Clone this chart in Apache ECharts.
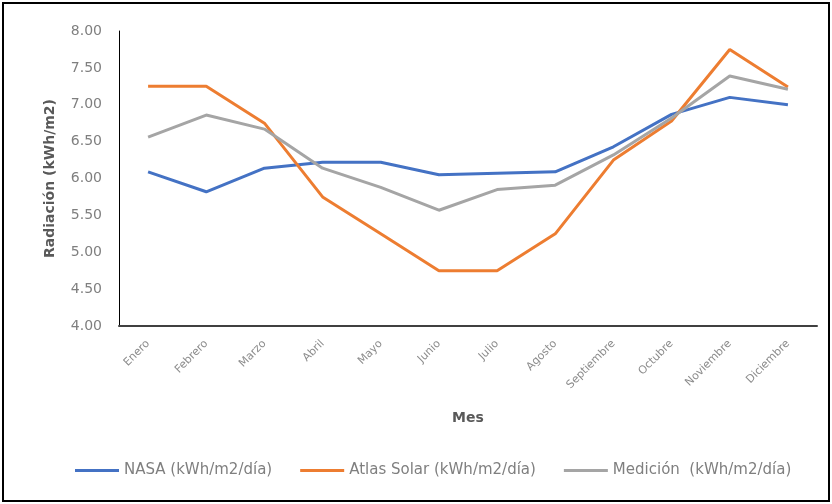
<!DOCTYPE html>
<html><head><meta charset="utf-8">
<script src="https://cdn.jsdelivr.net/npm/echarts@6/dist/echarts.min.js"></script>
<style>html,body{margin:0;padding:0;background:#fff}#c{width:832px;height:504px}</style>
</head><body><div id="c"></div>
<script>
const months = ["Enero","Febrero","Marzo","Abril","Mayo","Junio","Julio","Agosto","Septiembre","Octubre","Noviembre","Diciembre"];
const nasa = [6.09,5.82,6.14,6.22,6.22,6.05,6.07,6.09,6.43,6.87,7.10,7.00];
const atlas = [7.25,7.25,6.75,5.75,5.25,4.75,4.75,5.25,6.25,6.78,7.75,7.24];
const medicion = [6.56,6.86,6.67,6.14,5.88,5.57,5.85,5.91,6.32,6.82,7.39,7.21];
const seriesNames = ["NASA (kWh/m2/día)","Atlas Solar (kWh/m2/día)","Medición  (kWh/m2/día)"];
const colors = ["#4472C4","#ED7D31","#A5A5A5"];
const font = "'DejaVu Sans', sans-serif";
const chart = echarts.init(document.getElementById('c'));
chart.setOption({
  animation:false,
  color:colors,
  graphic:[{type:'rect',shape:{x:3,y:3,width:826,height:498},style:{fill:'none',stroke:'#000',lineWidth:2},silent:true}],
  grid:{left:119,right:15,top:31,bottom:178},
  legend:{top:458,left:70,itemWidth:44,itemHeight:3,itemGap:28,icon:'rect',
    textStyle:{fontFamily:font,fontSize:15,color:'#7f7f7f'},data:seriesNames},
  xAxis:{type:'category',data:months,boundaryGap:true,
    axisLine:{lineStyle:{color:'#404040',width:2}},axisTick:{show:false},
    axisLabel:{rotate:45,fontFamily:font,fontSize:11,color:'#8c8c8c',margin:16},
    name:'Mes',nameLocation:'middle',nameGap:85,
    nameTextStyle:{fontFamily:font,fontSize:14,fontWeight:'bold',color:'#595959'}},
  yAxis:{type:'value',min:4,max:8,interval:0.5,
    axisLine:{show:true,lineStyle:{color:'#000',width:1}},axisTick:{show:false},splitLine:{show:false},
    axisLabel:{formatter:v=>v.toFixed(2),fontFamily:font,fontSize:14,color:'#7f7f7f',margin:17},
    name:'Radiación (kWh/m2)',nameLocation:'middle',nameGap:62,
    nameTextStyle:{fontFamily:font,fontSize:14,fontWeight:'bold',color:'#595959'}},
  series:[nasa,atlas,medicion].map((d,i)=>({name:seriesNames[i],type:'line',data:d,symbol:'none',
    lineStyle:{width:3,color:colors[i]},itemStyle:{color:colors[i]}}))
});
</script></body></html>
